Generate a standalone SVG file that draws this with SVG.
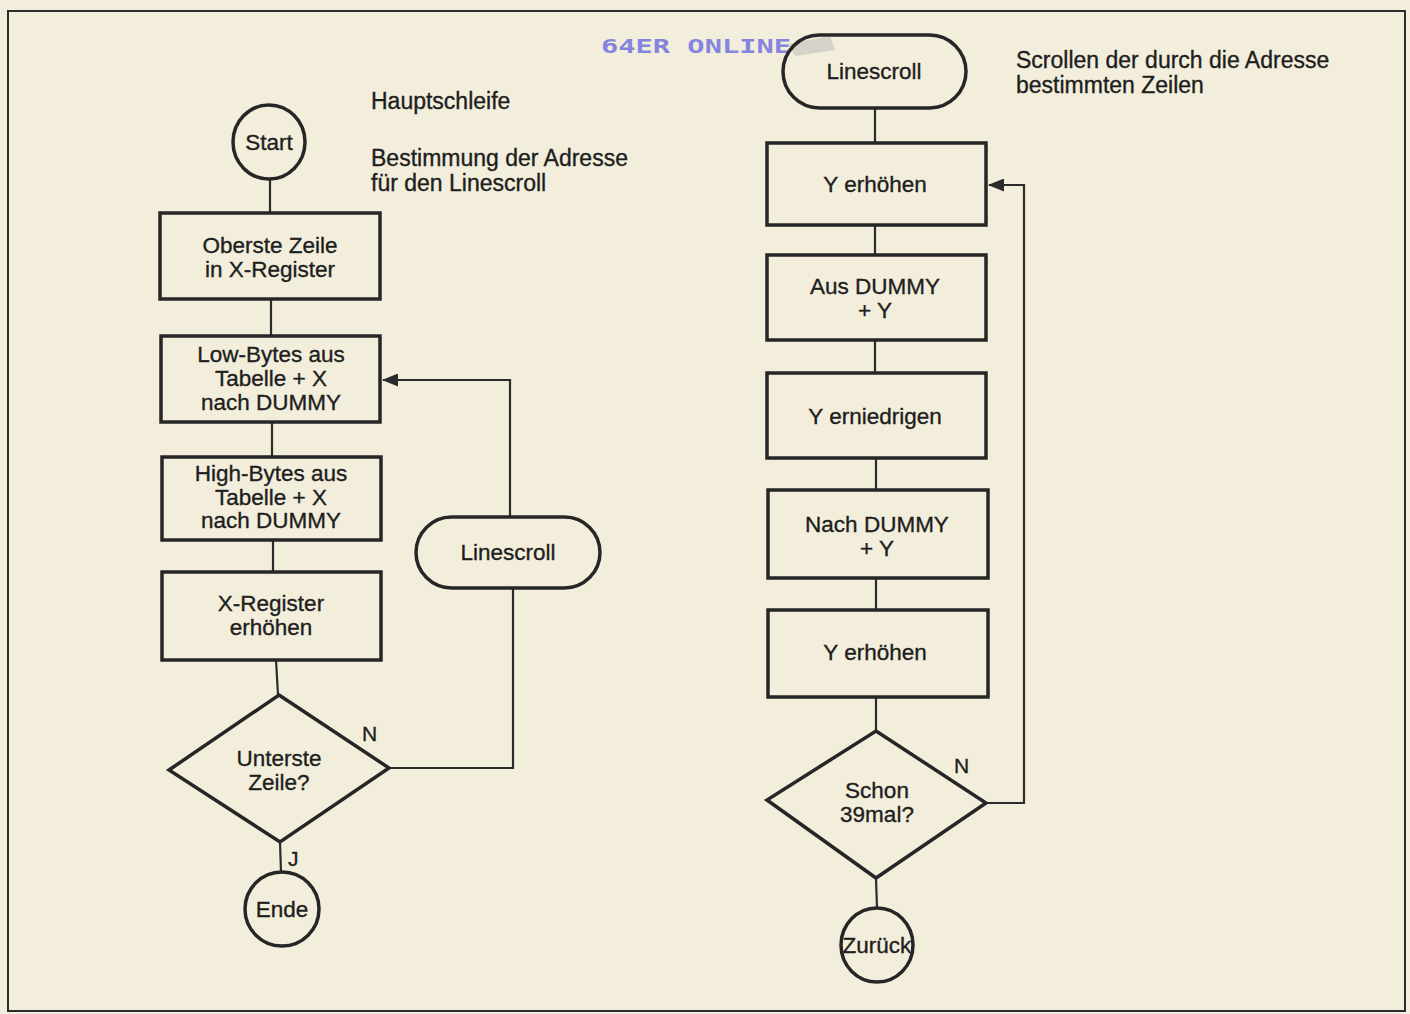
<svg xmlns="http://www.w3.org/2000/svg" width="1410" height="1014" viewBox="0 0 1410 1014">
<defs>
<style>
.bg{fill:#f3eedc}
.frame{fill:none;stroke:#2b2b2b;stroke-width:2}
.box{fill:none;stroke:#262626;stroke-width:3.5}
.ln{fill:none;stroke:#2b2b2b;stroke-width:2.2}
.t{font-family:"Liberation Sans",Arial,sans-serif;font-size:22.5px;fill:#1e1e1e;stroke:#1e1e1e;stroke-width:0.35;text-anchor:middle}
.a{font-family:"Liberation Sans",Arial,sans-serif;font-size:23px;fill:#1e1e1e;stroke:#1e1e1e;stroke-width:0.35}
.wm{font-family:"DejaVu Sans Mono",monospace;font-weight:bold;font-size:20px;fill:#8585e0}
</style>
<marker id="arr" viewBox="0 0 16 13" refX="15" refY="6.5" markerWidth="16" markerHeight="13" markerUnits="userSpaceOnUse" orient="auto">
<path d="M0,0 L16,6.5 L0,13 Z" fill="#2b2b2b"/>
</marker>
</defs>
<rect class="bg" x="0" y="0" width="1410" height="1014"/>
<rect class="frame" x="8" y="11" width="1397" height="1000"/>

<g id="watermark">
<text class="wm" x="601" y="53" textLength="190" lengthAdjust="spacingAndGlyphs">64ER ONLINE</text>
<path d="M788,44 L830,36 L835,50 L795,56 Z" fill="#c8c6c0" opacity="0.7"/>
</g>

<g id="annotations">
<text class="a" x="371" y="109">Hauptschleife</text>
<text class="a" x="371" y="166">Bestimmung der Adresse</text>
<text class="a" x="371" y="191">für den Linescroll</text>
<text class="a" x="1016" y="68">Scrollen der durch die Adresse</text>
<text class="a" x="1016" y="93">bestimmten Zeilen</text>
</g>

<g id="connectors">
<line class="ln" x1="270" y1="180" x2="270" y2="213"/>
<line class="ln" x1="271" y1="299" x2="271" y2="336"/>
<line class="ln" x1="272" y1="422" x2="272" y2="457"/>
<line class="ln" x1="273" y1="540" x2="273" y2="572"/>
<line class="ln" x1="276" y1="660" x2="278" y2="695"/>
<line class="ln" x1="280" y1="842" x2="281" y2="872"/>
<polyline class="ln" points="389,768 513,768 513,589"/>
<polyline class="ln" points="510,517 510,380 383,380" marker-end="url(#arr)"/>
<line class="ln" x1="875" y1="108" x2="875" y2="143"/>
<line class="ln" x1="875" y1="225" x2="875" y2="255"/>
<line class="ln" x1="875" y1="340" x2="875" y2="373"/>
<line class="ln" x1="876" y1="458" x2="876" y2="490"/>
<line class="ln" x1="876" y1="578" x2="876" y2="610"/>
<line class="ln" x1="876" y1="697" x2="876" y2="731"/>
<line class="ln" x1="876" y1="878" x2="877" y2="908"/>
<polyline class="ln" points="986,803 1024,803 1024,185 989,185" marker-end="url(#arr)"/>
<text class="a" x="362" y="741" style="font-size:21px">N</text>
<text class="a" x="288" y="866" style="font-size:21px">J</text>
<text class="a" x="954" y="773" style="font-size:21px">N</text>
</g>

<g id="start">
<ellipse class="box" cx="269" cy="142" rx="36" ry="37"/>
<text class="t" x="269" y="150">Start</text>
</g>
<g id="oberste">
<rect class="box" x="160" y="213" width="220" height="86"/>
<text class="t" x="270" y="253">Oberste Zeile</text>
<text class="t" x="270" y="277">in X-Register</text>
</g>
<g id="lowbytes">
<rect class="box" x="161" y="336" width="219" height="86"/>
<text class="t" x="271" y="362">Low-Bytes aus</text>
<text class="t" x="271" y="386">Tabelle  + X</text>
<text class="t" x="271" y="410">nach DUMMY</text>
</g>
<g id="highbytes">
<rect class="box" x="162" y="457" width="219" height="83"/>
<text class="t" x="271" y="481">High-Bytes aus</text>
<text class="t" x="271" y="505">Tabelle  + X</text>
<text class="t" x="271" y="528">nach DUMMY</text>
</g>
<g id="xinc">
<rect class="box" x="162" y="572" width="219" height="88"/>
<text class="t" x="271" y="611">X-Register</text>
<text class="t" x="271" y="635">erhöhen</text>
</g>
<g id="unterste">
<polygon class="box" points="279,695 389,768 280,842 169,770"/>
<text class="t" x="279" y="766">Unterste</text>
<text class="t" x="279" y="790">Zeile?</text>
</g>
<g id="ende">
<ellipse class="box" cx="282" cy="909" rx="37" ry="37"/>
<text class="t" x="282" y="917">Ende</text>
</g>
<g id="linescroll-call">
<rect class="box" x="416" y="517" width="184" height="71" rx="35.5" ry="35.5"/>
<text class="t" x="508" y="560">Linescroll</text>
</g>

<g id="linescroll">
<rect class="box" x="783" y="35" width="183" height="73" rx="36.5" ry="36.5"/>
<text class="t" x="874" y="79">Linescroll</text>
</g>
<g id="yinc1">
<rect class="box" x="767" y="143" width="219" height="82"/>
<text class="t" x="875" y="192">Y erhöhen</text>
</g>
<g id="ausdummy">
<rect class="box" x="767" y="255" width="219" height="85"/>
<text class="t" x="875" y="294">Aus DUMMY</text>
<text class="t" x="875" y="318">+ Y</text>
</g>
<g id="ydec">
<rect class="box" x="767" y="373" width="219" height="85"/>
<text class="t" x="875" y="424">Y erniedrigen</text>
</g>
<g id="nachdummy">
<rect class="box" x="768" y="490" width="220" height="88"/>
<text class="t" x="877" y="532">Nach DUMMY</text>
<text class="t" x="877" y="556">+ Y</text>
</g>
<g id="yinc2">
<rect class="box" x="768" y="610" width="220" height="87"/>
<text class="t" x="875" y="660">Y erhöhen</text>
</g>
<g id="schon">
<polygon class="box" points="876,731 986,803 876,878 767,800"/>
<text class="t" x="877" y="798">Schon</text>
<text class="t" x="877" y="822">39mal?</text>
</g>
<g id="zurueck">
<ellipse class="box" cx="877" cy="945" rx="36" ry="37"/>
<text class="t" x="877" y="953">Zurück</text>
</g>
</svg>
